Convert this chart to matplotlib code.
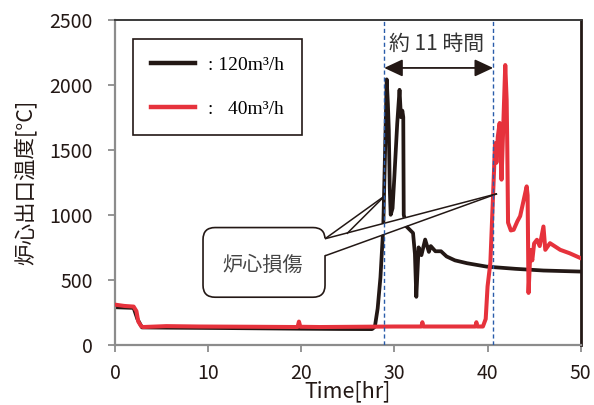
import matplotlib
matplotlib.use("Agg")
import matplotlib.pyplot as plt
from matplotlib.patches import FancyBboxPatch, Polygon

# ---- data ----
time_120 = [0, 2.0, 2.4, 2.9, 6, 12, 20, 24, 27.6, 27.9, 28.2, 28.5, 28.8, 29.0, 29.17,
            29.3, 29.4, 29.5, 29.6, 29.8, 30.0, 30.3, 30.55, 30.7, 30.85, 30.95, 31.0,
            31.3, 32.0, 32.2, 32.35, 32.6, 32.9, 33.3, 33.7, 33.9, 34.4, 35.0, 35.6,
            36.5, 37.8, 39.9, 43.0, 46.0, 50.0]
temp_120 = [290, 285, 200, 135, 133, 130, 125, 123, 122, 140, 280, 520, 900, 1500, 2040,
            1850, 1650, 1200, 1000, 1050, 1300, 1700, 1960, 1750, 1800, 1750, 1000,
            910, 860, 700, 370, 750, 690, 810, 715, 760, 720, 720, 680,
            650, 628, 602, 585, 572, 564]

time_40 = [0, 1.0, 2.0, 2.3, 2.5, 2.8, 3.0, 5.5, 9.0, 15, 19.6, 19.75, 19.9, 22, 30,
           32.9, 33.0, 33.1, 38.7, 38.8, 38.9, 39.5, 39.8, 40.0, 40.3, 40.5, 40.7,
           40.8, 40.95, 41.1, 41.3, 41.5, 41.65, 41.9, 42.05, 42.12, 42.2, 42.5,
           42.8, 43.2, 43.5, 44.2, 44.3, 44.4, 44.6, 44.8, 45.0, 45.3, 45.6, 46.0,
           46.2, 46.7, 47.8, 48.8, 50.0]
temp_40 = [310, 300, 295, 260, 180, 145, 138, 145, 142, 140, 138, 180, 140, 138, 142,
           142, 175, 142, 142, 175, 142, 142, 200, 450, 630, 985, 1350,
           1550, 1400, 1600, 1705, 1270, 1600, 2150, 1880, 1500, 940, 880,
           885, 950, 990, 1218, 1150, 400, 730, 650, 780, 808, 760, 910,
           731, 782, 731, 705, 667]

legend_labels = [": 120m³/h", ":   40m³/h"]
x_ticks = [0, 10, 20, 30, 40, 50]
y_ticks = [0, 500, 1000, 1500, 2000, 2500]
event_times = [28.9, 40.6]

black = "#231815"
red = "#e6323c"
gray = "#8c8c8c"
jp = ["Noto Sans CJK JP", "DejaVu Sans"]
serif = ["Liberation Serif", "DejaVu Serif"]

fig = plt.figure(figsize=(5.94, 4.05), dpi=100)
ax = fig.add_axes([115 / 594, 1 - 345 / 405, 465.7 / 594, 325.5 / 405])

l1, = ax.plot(time_120, temp_120, color=black, lw=2.7, solid_joinstyle="round", zorder=2)
l2, = ax.plot(time_40, temp_40, color=red, lw=2.9, solid_joinstyle="round", zorder=3)

ax.set_xlim(0, 50)
ax.set_ylim(0, 2500)
ax.set_xticks(x_ticks)
ax.set_yticks(y_ticks)
for lab in ax.get_xticklabels() + ax.get_yticklabels():
    lab.set_family(jp)
    lab.set_fontsize(14)
    lab.set_color(black)
ax.tick_params(axis="both", direction="out", length=5, width=1.3, color=gray)
ax.tick_params(axis="x", pad=8)
ax.tick_params(axis="y", pad=11)

for s in ["left", "bottom"]:
    ax.spines[s].set_color(gray)
    ax.spines[s].set_linewidth(1.6)
ax.spines["top"].set_color("#3a3a3a")
ax.spines["top"].set_linewidth(1.4)
ax.spines["right"].set_color(black)
ax.spines["right"].set_linewidth(2.0)

ax.set_xlabel("Time[hr]", family=jp, fontsize=15.5, color=black, labelpad=-2.5)
ax.set_ylabel("炉心出口温度[°C]", family=jp, fontsize=15.5, color=black, labelpad=9)

# event lines
for t in event_times:
    ax.axvline(t, color="#2a5caa", lw=1.0, ls=(0, (3, 2)), zorder=7)

# arrow + text
ax.annotate("", xy=(event_times[0], 2128), xytext=(event_times[1], 2128),
            arrowprops=dict(arrowstyle="<|-|>,head_length=0.75,head_width=0.35",
                            mutation_scale=15, color=black, lw=1.3,
                            shrinkA=0, shrinkB=0), zorder=8)
ax.text(34.54, 2309, "約 11 時間", family=jp, fontsize=15, color="#333333",
        ha="center", va="center", zorder=8)

# callout
box = FancyBboxPatch((9.45, 367), 22.55 - 9.45, 902 - 367,
                     boxstyle="round,pad=0,rounding_size=1.29", mutation_aspect=71.2,
                     facecolor="white", edgecolor=black, lw=1.2, zorder=4)
ax.add_patch(box)
ax.add_patch(Polygon([(22.3, 816), (41.02, 1162), (22.3, 685)], closed=True,
                     facecolor="white", edgecolor="none", zorder=5))
ax.add_patch(Polygon([(22.55, 816), (28.99, 1147), (24.88, 854)], closed=True,
                     facecolor="white", edgecolor="none", zorder=5))
for (xa, ya), (xb, yb) in [((22.55, 816), (41.02, 1162)), ((22.55, 685), (41.02, 1162)),
                           ((22.55, 816), (28.99, 1147)), ((24.88, 854), (28.99, 1147))]:
    ax.plot([xa, xb], [ya, yb], color=black, lw=1.1, zorder=6, solid_capstyle="butt")
ax.text(15.9, 612, "炉心損傷", family=jp, fontsize=14.5, color="#444444",
        ha="center", va="center", zorder=6)

leg = ax.legend([l1, l2], legend_labels, loc="upper left",
                bbox_to_anchor=((133 - 115) / 465.7, (345 - 39) / 325.5),
                borderaxespad=0, frameon=True, fancybox=False, framealpha=1,
                edgecolor=black, handlelength=2.27, handletextpad=0.7,
                labelspacing=1.35, borderpad=0.9, prop={"family": serif, "size": 14})
leg.get_frame().set_linewidth(1.2)
leg.set_zorder(9)
for h in leg.get_lines():
    h.set_linewidth(3.2)

fig.savefig("out.png", dpi=100)
